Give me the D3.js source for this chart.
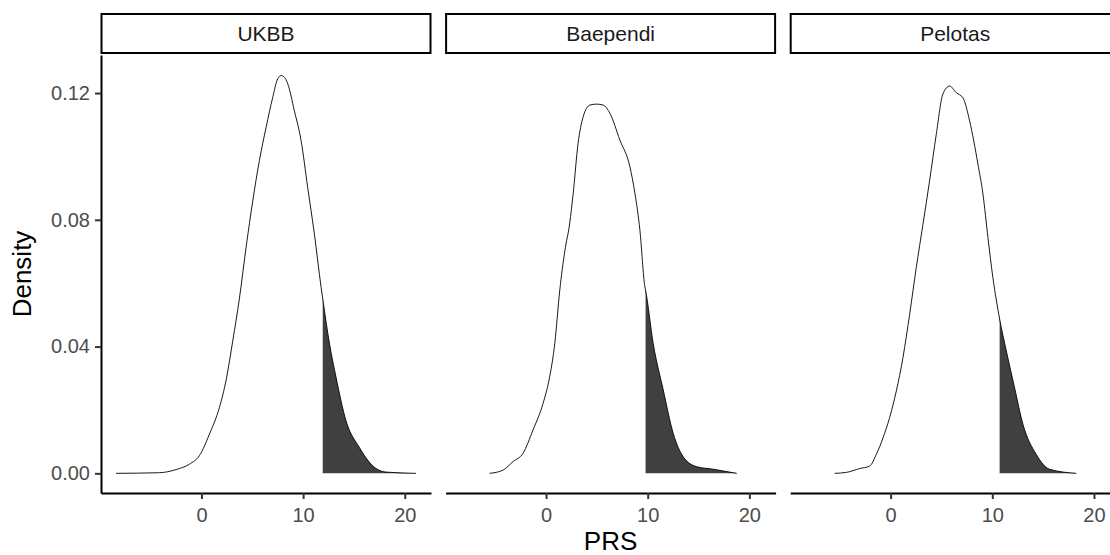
<!DOCTYPE html>
<html>
<head>
<meta charset="utf-8">
<script src="https://cdn.jsdelivr.net/npm/d3@7"></script>
<style>
  body { margin: 0; background: #fff; }
  svg { display: block; }
  text { font-family: "Liberation Sans", Arial, Helvetica, sans-serif; }
</style>
</head>
<body>
<svg id="chart" width="1110" height="555"></svg>
<script>
// Cohort panels
const cohorts = ["UKBB", "Baependi", "Pelotas"];

// Kernel density of the polygenic risk score, per cohort
const ukbbPrs     = [-8.4, -4.13, -2.49, -1.18, -0.2, 0.79, 1.77, 2.43, 3.08, 3.74, 4.39, 5.05, 5.7, 6.36, 7.01, 7.5, 7.83, 8.16, 8.49, 9.14, 9.8, 10.45, 11.11, 11.77, 11.93, 12.6, 13.24, 14.22, 15.53, 16.84, 18.15, 21.1];
const ukbbDensity = [0, 0.0002, 0.0012, 0.0029, 0.0056, 0.0124, 0.0208, 0.0295, 0.0418, 0.0553, 0.0713, 0.086, 0.0987, 0.1092, 0.1186, 0.1245, 0.1255, 0.1250, 0.1229, 0.1144, 0.105, 0.0902, 0.0755, 0.0587, 0.0551, 0.0408, 0.0303, 0.0166, 0.0082, 0.0024, 0.0004, 0];

const baependiPrs     = [-5.55, -4.24, -3.25, -2.27, -1.28, -0.3, 0.36, 0.86, 1.35, 1.84, 2.33, 2.66, 3.15, 3.65, 4.31, 4.96, 5.62, 6.28, 7.26, 8.25, 8.74, 9.23, 9.72, 9.79, 10.54, 11.53, 12.51, 13.5, 14.82, 16.45, 18.76];
const baependiDensity = [0, 0.001, 0.0037, 0.0063, 0.0137, 0.022, 0.0305, 0.041, 0.0578, 0.0700, 0.0790, 0.0880, 0.1041, 0.1125, 0.1162, 0.1165, 0.1162, 0.1136, 0.1052, 0.0967, 0.0884, 0.0768, 0.0589, 0.0578, 0.041, 0.0263, 0.0126, 0.0052, 0.0021, 0.0013, 0];

const pelotasPrs     = [-5.5, -4.36, -3.05, -2.06, -1.41, -0.75, -0.1, 0.56, 1.21, 1.87, 2.52, 3.18, 3.83, 4.49, 5.14, 5.8, 6.46, 7.11, 7.77, 8.59, 9.08, 9.57, 10.06, 10.72, 11.38, 12.19, 13.01, 14.32, 15.63, 18.26];
const pelotasDensity = [0, 0.0003, 0.0015, 0.0023, 0.006, 0.0112, 0.0176, 0.026, 0.0365, 0.0502, 0.0649, 0.0786, 0.0923, 0.107, 0.1197, 0.1222, 0.1201, 0.1185, 0.1112, 0.0975, 0.0881, 0.0744, 0.0617, 0.0487, 0.0386, 0.027, 0.0155, 0.006, 0.0013, 0];

// Upper-tail cutoff (shaded region starts here)
const cutoffs = [11.93, 9.79, 10.72];

const xTicks = [0, 10, 20];
const yTicks = [0, 0.04, 0.08, 0.12];

const series = [
  { prs: ukbbPrs, density: ukbbDensity },
  { prs: baependiPrs, density: baependiDensity },
  { prs: pelotasPrs, density: pelotasDensity }
];

// Layout
const panelLeft = 101, panelWidth = 330, panelStep = 344.6;
const panelTop = 55, panelBottom = 493;
const stripTop = 14, stripBottom = 53;

const svg = d3.select("#chart");

const x = d3.scaleLinear().domain([-9.88, 22.58]).range([0, panelWidth]);
const y = d3.scaleLinear().domain([-0.0062, 0.132]).range([panelBottom, panelTop]);

const line = d3.line()
  .x(d => x(d[0]))
  .y(d => y(d[1]))
  .curve(d3.curveMonotoneX);

const area = d3.area()
  .x(d => x(d[0]))
  .y0(y(0))
  .y1(d => y(d[1]))
  .curve(d3.curveMonotoneX);

cohorts.forEach((name, i) => {
  const left = panelLeft + i * panelStep;
  const g = svg.append("g").attr("transform", `translate(${left},0)`);
  const pts = series[i].prs.map((v, k) => [v, series[i].density[k]]);

  // Shaded tail: area under the curve to the right of the cutoff
  const clipId = `tail-${i}`;
  g.append("clipPath").attr("id", clipId)
    .append("rect")
    .attr("x", x(cutoffs[i]))
    .attr("y", panelTop)
    .attr("width", panelWidth - x(cutoffs[i]))
    .attr("height", panelBottom - panelTop);

  g.append("path")
    .datum(pts)
    .attr("clip-path", `url(#${clipId})`)
    .attr("fill", "#404040")
    .attr("d", area);

  // Density outline
  g.append("path")
    .datum(pts)
    .attr("fill", "none")
    .attr("stroke", "#000")
    .attr("stroke-width", 0.9)
    .attr("d", line);

  // Strip
  g.append("rect")
    .attr("x", 0.5).attr("y", stripTop)
    .attr("width", panelWidth - 1).attr("height", stripBottom - stripTop)
    .attr("fill", "#fff")
    .attr("stroke", "#000")
    .attr("stroke-width", 2);
  g.append("text")
    .attr("x", panelWidth / 2)
    .attr("y", (stripTop + stripBottom) / 2)
    .attr("dy", "0.35em")
    .attr("text-anchor", "middle")
    .attr("font-size", 21)
    .attr("fill", "#1A1A1A")
    .text(name);

  // x axis
  const xAxis = g.append("g")
    .attr("transform", `translate(0,${panelBottom})`)
    .call(d3.axisBottom(x).tickValues(xTicks).tickSize(6).tickSizeOuter(0).tickPadding(8.5).tickFormat(d3.format("d")));
  xAxis.select(".domain").attr("stroke", "#000").attr("stroke-width", 2);
  xAxis.selectAll(".tick line").attr("stroke", "#333").attr("stroke-width", 2);
  xAxis.selectAll(".tick text")
    .attr("font-size", 20)
    .attr("fill", "#4D4D4D")
    .attr("font-family", "Liberation Sans, Arial, sans-serif");

  // y axis on the first panel only
  if (i === 0) {
    const yAxis = g.append("g")
      .call(d3.axisLeft(y).tickValues(yTicks).tickSize(6).tickSizeOuter(0).tickPadding(5).tickFormat(d3.format(".2f")));
    yAxis.select(".domain").attr("stroke", "#000").attr("stroke-width", 2);
    yAxis.selectAll(".tick line").attr("stroke", "#333").attr("stroke-width", 2);
    yAxis.selectAll(".tick text")
      .attr("font-size", 20)
      .attr("fill", "#4D4D4D")
      .attr("font-family", "Liberation Sans, Arial, sans-serif");
  }
});

// Axis titles
const plotCenter = panelLeft + (2 * panelStep + panelWidth) / 2;
svg.append("text")
  .attr("x", plotCenter)
  .attr("y", 550)
  .attr("text-anchor", "middle")
  .attr("font-size", 26)
  .attr("fill", "#000")
  .text("PRS");

svg.append("text")
  .attr("transform", `translate(31,${(panelTop + panelBottom) / 2}) rotate(-90)`)
  .attr("text-anchor", "middle")
  .attr("font-size", 26)
  .attr("fill", "#000")
  .text("Density");
</script>
</body>
</html>
